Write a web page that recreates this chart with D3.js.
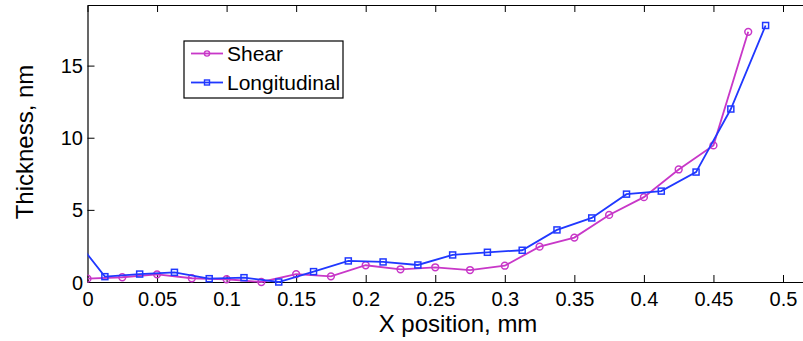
<!DOCTYPE html>
<html>
<head>
<meta charset="utf-8">
<script src="https://cdn.jsdelivr.net/npm/d3@7"></script>
<style>
  body { margin: 0; background: #fff; }
  text { font-family: "Liberation Sans", Arial, sans-serif; fill: #000; }
</style>
</head>
<body>
<svg id="chart" width="803" height="341"></svg>
<script>
// data
const shearX = [0, 0.025, 0.05, 0.075, 0.1, 0.125, 0.15, 0.175, 0.2, 0.225,
  0.25, 0.275, 0.3, 0.325, 0.35, 0.375, 0.4, 0.425, 0.45, 0.475];
const shearY = [0.23, 0.33, 0.53, 0.26, 0.19, 0.0, 0.55, 0.39, 1.16, 0.88,
  1.02, 0.83, 1.13, 2.45, 3.08, 4.65, 5.88, 7.8, 9.47, 17.34];
// first point sits just left of the axis, so only its line shows
const longX = [-0.0125, 0.0125, 0.0375, 0.0625, 0.0875, 0.1125, 0.1375, 0.1625, 0.1875, 0.2125,
  0.2375, 0.2625, 0.2875, 0.3125, 0.3375, 0.3625, 0.3875, 0.4125, 0.4375, 0.4625, 0.4875];
const longY = [3.45, 0.37, 0.55, 0.67, 0.23, 0.30, 0.0, 0.72, 1.46, 1.39,
  1.18, 1.875, 2.06, 2.2, 3.61, 4.44, 6.09, 6.3, 7.62, 11.99, 17.78];
const xTicks = [0, 0.05, 0.1, 0.15, 0.2, 0.25, 0.3, 0.35, 0.4, 0.45, 0.5];
const yTicks = [0, 5, 10, 15];
const seriesNames = ["Shear", "Longitudinal"];
const seriesColors = ["#c837c8", "#2038ff"];

const svg = d3.select("#chart");
const plotLeft = 87.5, plotTop = 5, plotBottom = 282;
const x = d3.scaleLinear().domain([0, 0.55]).range([plotLeft, plotLeft + 0.55 * 1391]);
const y = d3.scaleLinear().domain([0, 19.2]).range([plotBottom, plotTop]);

svg.append("rect").attr("width", 803).attr("height", 341).attr("fill", "#fff");

svg.append("clipPath").attr("id", "plotclip")
  .append("rect")
  .attr("x", x(0)).attr("y", y(19.2) - 10)
  .attr("width", x(0.55) - x(0)).attr("height", y(0) - y(19.2) + 20);

// axes, ticks pointing inward
const fmt = d => d === 0 ? "0" : String(d);
svg.append("g").attr("transform", `translate(0,${plotBottom})`)
  .call(d3.axisBottom(x).tickValues(xTicks).tickFormat(fmt).tickSize(-7).tickSizeOuter(0).tickPadding(10))
  .call(g => g.selectAll("text").attr("font-size", 20).attr("font-family", null));
svg.append("g").attr("transform", `translate(0,${plotTop})`)
  .call(d3.axisTop(x).tickValues(xTicks).tickFormat("").tickSize(-7).tickSizeOuter(0));
svg.append("g").attr("transform", `translate(${plotLeft},0)`)
  .call(d3.axisLeft(y).tickValues(yTicks).tickFormat(fmt).tickSize(-7).tickSizeOuter(0).tickPadding(4.5))
  .call(g => g.selectAll("text").attr("font-size", 20).attr("font-family", null).attr("dy", "0.35em"));
svg.append("g").attr("transform", `translate(${x(0.55)},0)`)
  .call(d3.axisRight(y).tickValues(yTicks).tickFormat("").tickSize(-7).tickSizeOuter(0));
svg.selectAll(".domain").attr("stroke", "#000").attr("stroke-width", 1.2);
svg.selectAll(".tick line").attr("stroke", "#000");

// series
const line = d3.line().x(d => x(d[0])).y(d => y(d[1]));
const series = [d3.zip(shearX, shearY), d3.zip(longX, longY)];
const plot = svg.append("g").attr("clip-path", "url(#plotclip)");

series.forEach(function(pts, i) {
  plot.append("path").datum(pts)
    .attr("d", line).attr("fill", "none")
    .attr("stroke", seriesColors[i]).attr("stroke-width", 1.8);
  if (i === 0) {
    plot.selectAll(".m0").data(pts).enter().append("circle")
      .attr("cx", d => x(d[0])).attr("cy", d => y(d[1])).attr("r", 3.4)
      .attr("fill", "none").attr("stroke", seriesColors[i]).attr("stroke-width", 1.5);
  } else {
    plot.selectAll(".m1").data(pts).enter().append("rect")
      .attr("x", d => x(d[0]) - 3).attr("y", d => y(d[1]) - 3)
      .attr("width", 6).attr("height", 6)
      .attr("fill", "none").attr("stroke", seriesColors[i]).attr("stroke-width", 1.5);
  }
});

// axis labels
svg.append("text").attr("x", 458).attr("y", 332)
  .attr("text-anchor", "middle").attr("font-size", 24).text("X position, mm");
svg.append("text").attr("transform", "translate(33,142) rotate(-90)")
  .attr("text-anchor", "middle").attr("font-size", 24).text("Thickness, nm");

// legend
const legend = svg.append("g");
legend.append("rect").attr("x", 184).attr("y", 41).attr("width", 159).attr("height", 57)
  .attr("fill", "#fff").attr("stroke", "#000").attr("stroke-width", 1.2);
seriesNames.forEach(function(name, i) {
  const ly = 53.5 + i * 29;
  legend.append("line").attr("x1", 191).attr("x2", 223).attr("y1", ly).attr("y2", ly)
    .attr("stroke", seriesColors[i]).attr("stroke-width", 1.8);
  if (i === 0) {
    legend.append("circle").attr("cx", 207).attr("cy", ly).attr("r", 2.6)
      .attr("fill", "none").attr("stroke", seriesColors[i]).attr("stroke-width", 1.4);
  } else {
    legend.append("rect").attr("x", 204.5).attr("y", ly - 2.5).attr("width", 5).attr("height", 5)
      .attr("fill", "none").attr("stroke", seriesColors[i]).attr("stroke-width", 1.4);
  }
  legend.append("text").attr("x", 227).attr("y", ly + 7.5)
    .attr("font-size", 21).text(name);
});
</script>
</body>
</html>
